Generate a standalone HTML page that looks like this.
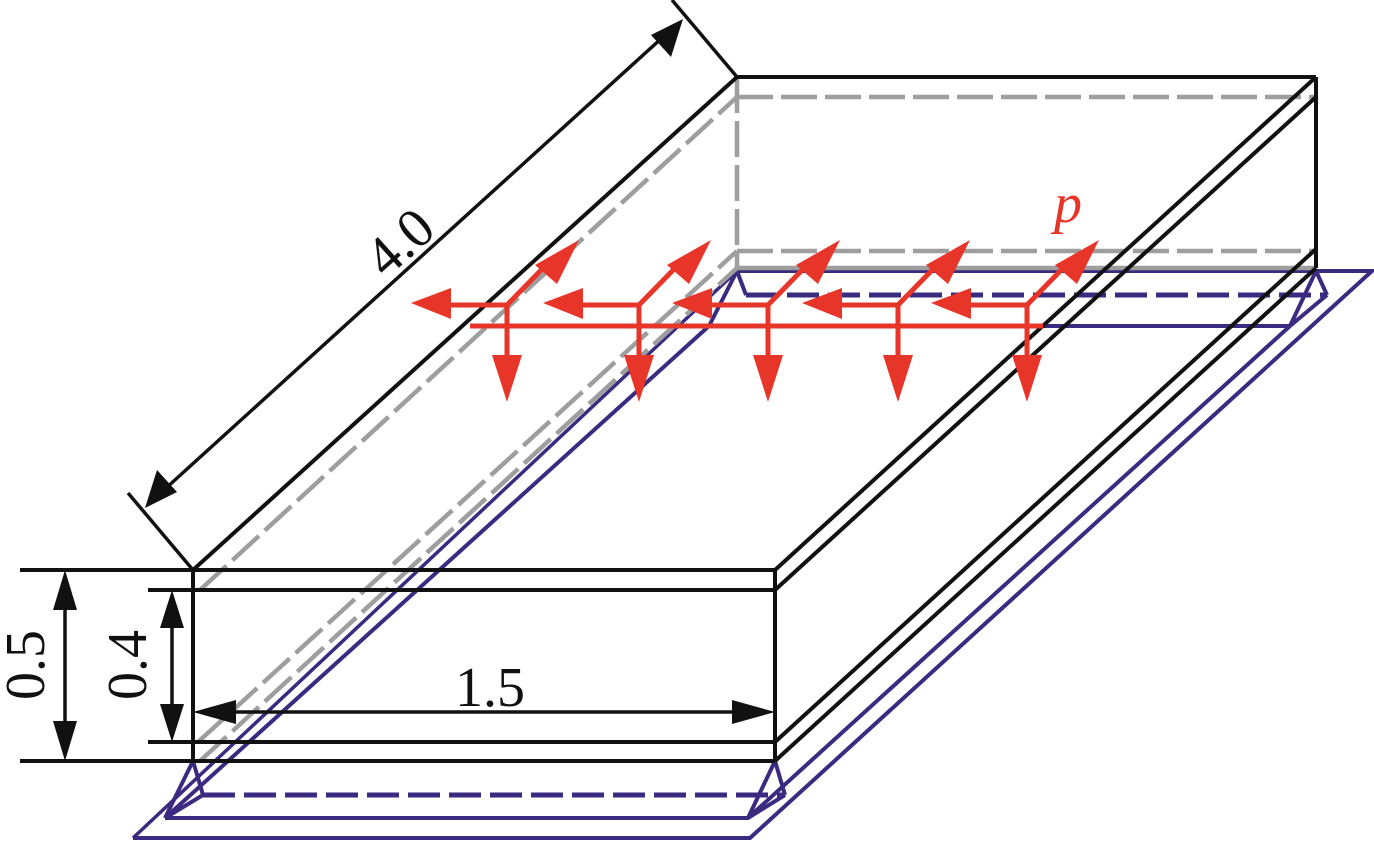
<!DOCTYPE html>
<html><head><meta charset="utf-8"><style>
html,body{margin:0;padding:0;background:#fff;}
svg{display:block;}
</style></head><body>
<svg width="1374" height="841" viewBox="0 0 1374 841" xmlns="http://www.w3.org/2000/svg">
<!-- purple plate -->
<g fill="none" stroke="#3a2a80" stroke-width="4">
<polyline points="133,838 750,838 1372,271 737,271"/>
<line x1="133" y1="838" x2="737" y2="271" stroke-width="3.5"/>
<polyline points="165,818 748,818 785,795"/>
<line x1="165" y1="818" x2="203" y2="795"/>
<line x1="193" y1="761" x2="165" y2="818"/>
<line x1="193" y1="761" x2="203" y2="795"/>
<line x1="775" y1="761" x2="785" y2="795"/>
<line x1="775" y1="761" x2="748" y2="818"/>
<line x1="748" y1="818" x2="1290" y2="326"/>
<line x1="165" y1="818" x2="709" y2="326"/>
<line x1="709" y1="326" x2="1290" y2="326"/>
<line x1="1290" y1="326" x2="1327" y2="295"/>
<line x1="1316" y1="271" x2="1327" y2="295"/>
<line x1="1316" y1="271" x2="1290" y2="326"/>
<line x1="737" y1="271" x2="746" y2="295"/>
<line x1="737" y1="271" x2="709" y2="326"/>
<line x1="203" y1="795" x2="785" y2="795" stroke-dasharray="32,9" stroke-width="5"/>
<line x1="746" y1="295" x2="1327" y2="295" stroke-dasharray="32,9" stroke-width="5"/>
</g>
<!-- gray hidden lines -->
<g fill="none" stroke="#9e9e9e" stroke-width="4.5" stroke-dasharray="36,8">
<line x1="737" y1="97" x2="1316" y2="97"/>
<line x1="737" y1="251" x2="1316" y2="251"/>
<line x1="737" y1="77" x2="737" y2="268"/>
<line x1="200" y1="590" x2="737" y2="97"/>
<line x1="198" y1="742" x2="737" y2="251"/>
<line x1="200" y1="761" x2="737" y2="268"/>
</g>
<line x1="737" y1="268" x2="1316" y2="268" stroke="#9e9e9e" stroke-width="4.5"/>
<!-- black box -->
<g fill="none" stroke="#111" stroke-width="4">
<line x1="20" y1="570" x2="775" y2="570"/>
<line x1="148" y1="590" x2="775" y2="590"/>
<line x1="148" y1="742" x2="775" y2="742"/>
<line x1="20" y1="761" x2="775" y2="761"/>
<line x1="193" y1="570" x2="193" y2="761"/>
<line x1="775" y1="570" x2="775" y2="761"/>
<line x1="193" y1="570" x2="737" y2="77"/>
<line x1="737" y1="77" x2="1316" y2="77"/>
<line x1="1316" y1="77" x2="1316" y2="268"/>
<line x1="775" y1="570" x2="1316" y2="77"/>
<line x1="775" y1="590" x2="1316" y2="97"/>
<line x1="775" y1="742" x2="1316" y2="249"/>
<line x1="775" y1="761" x2="1316" y2="268"/>
<line x1="193" y1="570" x2="128" y2="493" stroke-width="3.5"/>
<line x1="737" y1="77" x2="672" y2="0" stroke-width="3.5"/>
<line x1="165" y1="489" x2="663" y2="37" stroke-width="3.5"/>
<line x1="65" y1="600" x2="65" y2="731" stroke-width="3.5"/>
<line x1="172" y1="618" x2="172" y2="714" stroke-width="3.5"/>
<line x1="225" y1="712" x2="745" y2="712" stroke-width="3.5"/>
</g>
<g fill="#111">
<polygon points="145,508 157,470 177,492"/>
<polygon points="683,19 671,57 651,35"/>
<polygon points="65,570 53,610 77,610"/>
<polygon points="65,761 53,721 77,721"/>
<polygon points="172,590 160,628 184,628"/>
<polygon points="172,742 160,704 184,704"/>
<polygon points="193,712 236,700 236,724"/>
<polygon points="775,712 732,700 732,724"/>
</g>
<g font-family="Liberation Serif, serif" font-size="56" fill="#111">
<text x="0" y="0" transform="translate(412,256) rotate(-42)" text-anchor="middle">4.0</text>
<text x="0" y="0" transform="translate(44,665) rotate(-90)" text-anchor="middle">0.5</text>
<text x="0" y="0" transform="translate(146,665) rotate(-90)" text-anchor="middle">0.4</text>
<text x="490" y="706" text-anchor="middle">1.5</text>
</g>
<!-- red loads -->
<line x1="470" y1="326" x2="1043" y2="326" stroke="#e8352a" stroke-width="5"/>
<g stroke="#e8352a" stroke-width="5" fill="#e8352a">
<g transform="translate(507,305)"><line x1="0" y1="0" x2="-60" y2="0"/><line x1="0" y1="0" x2="0" y2="60"/><line x1="0" y1="0" x2="42" y2="-43"/><polygon stroke="none" points="-96,-2 -56,-17 -56,14"/><polygon stroke="none" points="0,97 -15,50 15,50"/><polygon stroke="none" points="72,-65 50,-21 28,-40"/></g>
<g transform="translate(639,305)"><line x1="0" y1="0" x2="-60" y2="0"/><line x1="0" y1="0" x2="0" y2="60"/><line x1="0" y1="0" x2="42" y2="-43"/><polygon stroke="none" points="-96,-2 -56,-17 -56,14"/><polygon stroke="none" points="0,97 -15,50 15,50"/><polygon stroke="none" points="72,-65 50,-21 28,-40"/></g>
<g transform="translate(768,305)"><line x1="0" y1="0" x2="-60" y2="0"/><line x1="0" y1="0" x2="0" y2="60"/><line x1="0" y1="0" x2="42" y2="-43"/><polygon stroke="none" points="-96,-2 -56,-17 -56,14"/><polygon stroke="none" points="0,97 -15,50 15,50"/><polygon stroke="none" points="72,-65 50,-21 28,-40"/></g>
<g transform="translate(898,305)"><line x1="0" y1="0" x2="-60" y2="0"/><line x1="0" y1="0" x2="0" y2="60"/><line x1="0" y1="0" x2="42" y2="-43"/><polygon stroke="none" points="-96,-2 -56,-17 -56,14"/><polygon stroke="none" points="0,97 -15,50 15,50"/><polygon stroke="none" points="72,-65 50,-21 28,-40"/></g>
<g transform="translate(1027,305)"><line x1="0" y1="0" x2="-60" y2="0"/><line x1="0" y1="0" x2="0" y2="60"/><line x1="0" y1="0" x2="42" y2="-43"/><polygon stroke="none" points="-96,-2 -56,-17 -56,14"/><polygon stroke="none" points="0,97 -15,50 15,50"/><polygon stroke="none" points="72,-65 50,-21 28,-40"/></g>
</g>
<text x="1068" y="222" font-family="Liberation Serif, serif" font-style="italic" font-size="56" fill="#e8352a" text-anchor="middle">p</text>
</svg>
</body></html>
